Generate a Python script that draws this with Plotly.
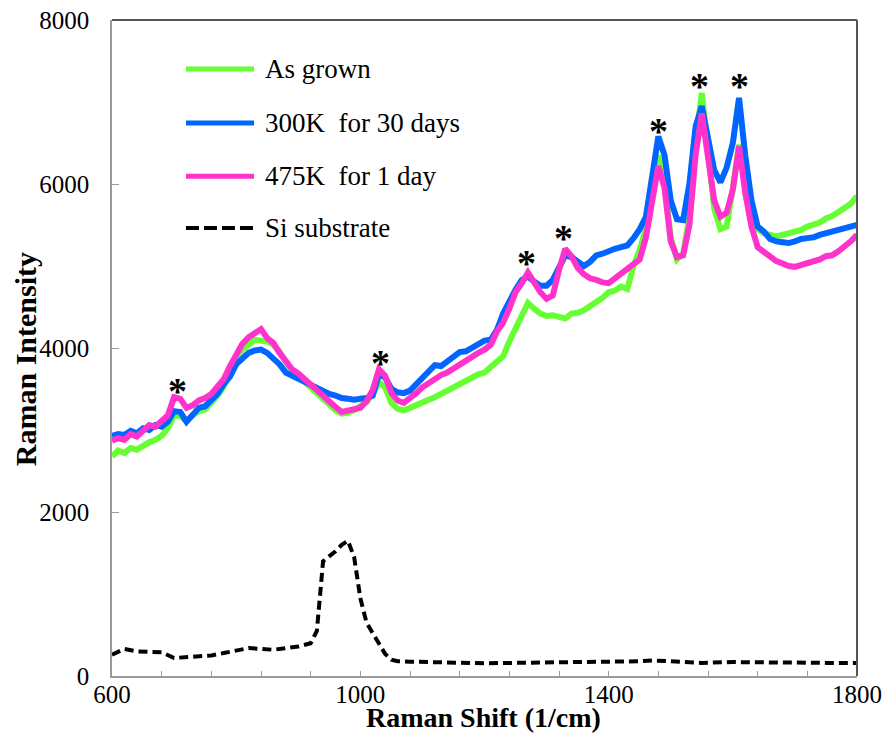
import plotly.graph_objects as go

# ---------------- data ----------------
shift = list(range(600, 1801, 10))

as_grown = [2680, 2750, 2720, 2780, 2760, 2810, 2850, 2880, 2930, 3020,
            3180, 3170, 3110, 3180, 3230, 3250, 3330, 3420, 3530, 3700,
            3880, 3980, 4050, 4100, 4090, 4080, 4040, 3950, 3830, 3720,
            3660, 3600, 3520, 3450, 3380, 3310, 3240, 3200, 3210, 3240,
            3280, 3340, 3440, 3580, 3520, 3330, 3260, 3240, 3270, 3310,
            3340, 3370, 3400, 3440, 3480, 3510, 3570, 3600, 3640, 3680,
            3700, 3760, 3830, 3900, 4080, 4250, 4420, 4550, 4480, 4420,
            4390, 4400, 4380, 4360, 4420, 4430, 4460, 4500, 4560, 4610,
            4680, 4700, 4750, 4720, 5000, 5200, 5450, 5900, 6350, 6000,
            5350, 5080, 5150, 5600, 6500, 7110, 6450, 5700, 5450, 5480,
            5950, 6480, 6150, 5600, 5450, 5400, 5380, 5360, 5380, 5400,
            5420, 5440, 5480, 5510, 5530, 5580, 5610, 5660, 5700, 5760,
            5850]

k300_30d = [2930, 2950, 2940, 2990, 2960, 3020, 3000, 3060, 3040, 3100,
            3230, 3220, 3100, 3180, 3270, 3290, 3360, 3440, 3560, 3650,
            3800, 3880, 3940, 3970, 3980, 3940, 3880, 3800, 3700, 3660,
            3630, 3600, 3560, 3510, 3480, 3440, 3420, 3390, 3380, 3370,
            3380, 3390, 3420, 3680, 3640, 3500, 3460, 3450, 3480, 3560,
            3640, 3700, 3790, 3780, 3830, 3900, 3950, 3960, 4010, 4050,
            4090, 4100, 4220, 4420, 4580, 4710, 4830, 4870, 4810, 4760,
            4760, 4830, 4980, 5130, 5110, 5060, 5000, 5050, 5130, 5150,
            5190, 5210, 5230, 5250, 5340, 5450, 5600, 6050, 6580, 6350,
            5800, 5570, 5560, 6000, 6700, 6950, 6600, 6170, 6020, 6200,
            6500, 7050, 6350, 5800, 5480, 5420, 5330, 5300, 5290, 5280,
            5300, 5330, 5340, 5350, 5380, 5400, 5420, 5440, 5470, 5490,
            5500]

k475_1d = [2870, 2900, 2880, 2950, 2920, 2990, 3060, 3040, 3110, 3180,
           3400, 3380, 3270, 3300, 3360, 3390, 3440, 3520, 3620, 3780,
           3930, 4050, 4130, 4180, 4230, 4120, 4060, 3940, 3830, 3740,
           3690, 3620, 3560, 3470, 3400, 3350, 3280, 3220, 3240, 3260,
           3270, 3350, 3490, 3740, 3660, 3450, 3360, 3330, 3380, 3450,
           3520, 3570, 3640, 3670, 3700, 3750, 3800, 3850, 3910, 3940,
           3980, 4040, 4200, 4310, 4480, 4680, 4790, 4920, 4800, 4680,
           4600, 4640, 4950, 5210, 5120, 4980, 4900, 4850, 4830, 4800,
           4790, 4850, 4900, 4950, 5030, 5080, 5350, 5800, 6220, 5950,
           5300, 5110, 5130, 5500, 6350, 6860, 6330, 5800, 5600, 5650,
           5930, 6460, 5890, 5480, 5230, 5170, 5100, 5060, 5030, 5000,
           4990, 5010, 5040, 5050, 5080, 5120, 5130, 5180, 5230, 5300,
           5380]

si_shift = [600, 620, 640, 660, 680, 700, 720, 740, 760, 780, 800, 820, 840,
            860, 880, 900, 920, 930, 940, 950, 960, 970, 980, 990, 1000,
            1010, 1020, 1030, 1040, 1050, 1060, 1080, 1100, 1150, 1200,
            1250, 1300, 1350, 1400, 1450, 1470, 1500, 1550, 1600, 1650,
            1700, 1750, 1800]
si_substrate = [260, 330, 300, 290, 290, 220, 230, 240, 250, 280, 310, 340,
                330, 320, 340, 360, 400, 550, 1400, 1460, 1520, 1600, 1650,
                1450, 950, 650, 520, 400, 270, 200, 180, 175, 170, 160, 155,
                160, 165, 165, 170, 180, 190, 175, 160, 170, 165, 155, 160,
                160]

peak_x = [706, 1033, 1268, 1328, 1481, 1547, 1610]
peak_y = [3549, 3890, 5110, 5415, 6720, 7268, 7268]

names = ["As grown", "300K  for 30 days", "475K  for 1 day", "Si substrate"]
colors = ["#66FF33", "#0066FF", "#FF33CC", "#000000"]

x_tick_vals = [600, 1000, 1400, 1800]
x_title = "Raman Shift (1/cm)"
y_title = "Raman Intensity"

# ---------------- figure ----------------
SERIF = "Liberation Serif, Times New Roman, serif"
fig = go.Figure()

for series, name, color in zip([as_grown, k300_30d, k475_1d], names[:3], colors[:3]):
    fig.add_trace(go.Scatter(x=shift, y=series, mode="lines", name=name,
                             line=dict(color=color, width=6),
                             showlegend=False))

fig.add_trace(go.Scatter(x=si_shift, y=si_substrate, mode="lines", name=names[3],
                         line=dict(color=colors[3], width=4, dash="9px,5px"),
                         showlegend=False))

annotations = []
for px, py in zip(peak_x, peak_y):
    annotations.append(dict(x=px, y=py, xref="x", yref="y", text="<b>*</b>",
                            showarrow=False, yanchor="middle", yshift=-6,
                            font=dict(family=SERIF, size=38, color="black")))

# manual legend (long line samples as in the reference)
leg_rows = [0.9253, 0.843, 0.762, 0.6829]
shapes = []
for i, (name, color) in enumerate(zip(names, colors)):
    shapes.append(dict(type="line", xref="paper", yref="paper",
                       x0=0.0993, x1=0.1906, y0=leg_rows[i], y1=leg_rows[i],
                       line=dict(color=color, width=5 if i < 3 else 4,
                                 dash="solid" if i < 3 else "13px,5px")))
    annotations.append(dict(x=0.2027, y=leg_rows[i], xref="paper", yref="paper",
                            text=name, showarrow=False, xanchor="left",
                            yanchor="middle",
                            font=dict(family=SERIF, size=27, color="black")))

# darker top / right frame lines
shapes.append(dict(type="line", xref="paper", yref="paper", x0=0, x1=1, y0=1, y1=1,
                   line=dict(color="#555555", width=2)))
shapes.append(dict(type="line", xref="paper", yref="paper", x0=1, x1=1, y0=0, y1=1,
                   line=dict(color="#555555", width=2)))

annotations.append(dict(x=0.499, y=0, xref="paper", yref="paper", text="<b>" + x_title + "</b>",
                        showarrow=False, xanchor="center", yanchor="middle", yshift=-41,
                        font=dict(family=SERIF, size=28, color="black")))
annotations.append(dict(x=0, y=0.483, xref="paper", yref="paper", text="<b>" + y_title + "</b>",
                        showarrow=False, xanchor="center", yanchor="middle", xshift=-87,
                        textangle=-90,
                        font=dict(family=SERIF, size=30, color="black")))

axis_line = "#9a9a9a"
fig.update_layout(
    width=886, height=733, autosize=False,
    margin=dict(l=112, r=29, t=20, b=57, autoexpand=False),
    paper_bgcolor="white", plot_bgcolor="white",
    showlegend=False,
    annotations=annotations,
    shapes=shapes,
    xaxis=dict(range=[600, 1800], tickmode="array", tickvals=x_tick_vals,
               ticks="inside", ticklen=5, tickcolor=axis_line, tickwidth=1,
               minor=dict(tick0=600, dtick=80, ticks="inside", ticklen=5,
                          tickcolor=axis_line, tickwidth=1),
               showline=True, mirror=False, linecolor=axis_line, linewidth=1.5,
               showgrid=False, zeroline=False, automargin=False,
               ticklabelstandoff=-5,
               tickfont=dict(family=SERIF, size=25, color="black")),
    yaxis=dict(range=[0, 8000], tickmode="linear", tick0=0, dtick=2000,
               ticks="inside", ticklen=7, tickcolor=axis_line, tickwidth=1,
               showline=True, mirror=False, linecolor=axis_line, linewidth=1.5,
               showgrid=False, zeroline=False, ticklabelstandoff=16, automargin=False,
               tickfont=dict(family=SERIF, size=25, color="black")),
)

fig.write_html("out.html",
               config={"displayModeBar": False, "responsive": False},
               post_script="document.body.style.margin='0px';document.body.style.overflow='hidden';")
